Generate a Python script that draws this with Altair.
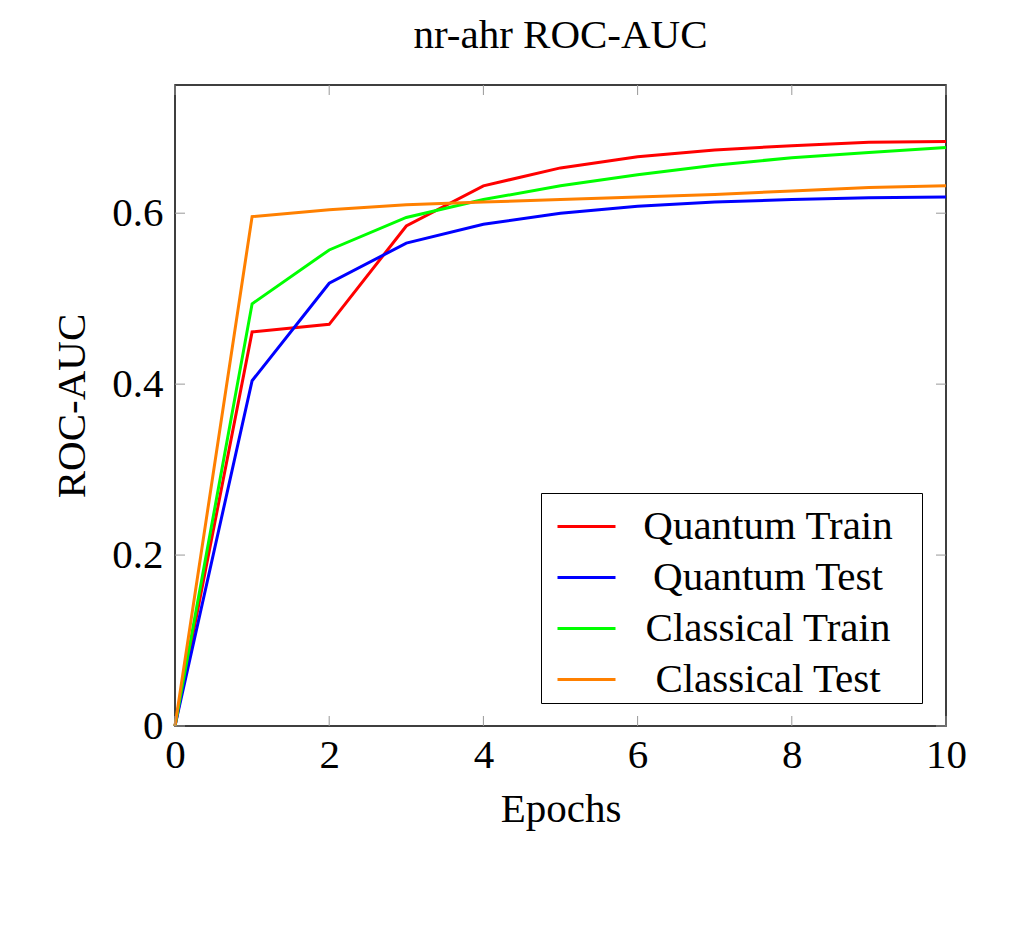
import altair as alt
import pandas as pd

epochs = [0, 1, 2, 3, 4, 5, 6, 7, 8, 9, 10]
quantum_train = [0, 0.461, 0.470, 0.585, 0.632, 0.653, 0.666, 0.674, 0.679, 0.683, 0.684]
quantum_test = [0, 0.404, 0.518, 0.565, 0.587, 0.600, 0.608, 0.613, 0.616, 0.618, 0.619]
classical_train = [0, 0.494, 0.557, 0.595, 0.616, 0.632, 0.645, 0.656, 0.665, 0.671, 0.677]
classical_test = [0, 0.596, 0.604, 0.610, 0.613, 0.616, 0.619, 0.622, 0.626, 0.630, 0.632]

series_names = ["Quantum Train", "Quantum Test", "Classical Train", "Classical Test"]
series_colors = ["#ff0000", "#0000ff", "#00ff00", "#ff8000"]
x_ticks = [0, 2, 4, 6, 8, 10]
y_ticks = [0, 0.2, 0.4, 0.6]

FONT = "Liberation Serif"
FS = 41
W, H = 771, 641

rows = []
for name, vals in zip(series_names, [quantum_train, quantum_test, classical_train, classical_test]):
    for e, v in zip(epochs, vals):
        rows.append({"Epoch": e, "Value": v, "Series": name})
df = pd.DataFrame(rows)

xscale = alt.Scale(domain=[0, 10], nice=False, zero=False)
yscale = alt.Scale(domain=[0, 0.75], nice=False)

axis_style = dict(labelFont=FONT, labelFontSize=FS, labelColor="black", labelFlush=False,
                  titleFont=FONT, titleFontSize=FS, titleFontWeight="normal", titleColor="black",
                  ticks=False, domain=False, grid=False)

lines = alt.Chart(df).mark_line(strokeWidth=3).encode(
    x=alt.X("Epoch:Q", scale=xscale,
            axis=alt.Axis(title="Epochs", values=x_ticks, format="d",
                          labelPadding=9, titlePadding=14, **axis_style)),
    y=alt.Y("Value:Q", scale=yscale,
            axis=alt.Axis(title="ROC-AUC", values=y_ticks,
                          labelExpr="datum.value == 0 ? '0' : format(datum.value, '.1f')",
                          labelPadding=12, titlePadding=18, **axis_style)),
    color=alt.Color("Series:N", sort=series_names,
                    scale=alt.Scale(domain=series_names, range=series_colors),
                    legend=alt.Legend(title=" ", titleOrient="right", titlePadding=26,
                                      titleFontSize=2,
                                      orient="none", legendX=366, legendY=408,
                                      symbolType="stroke", symbolSize=3364, symbolStrokeWidth=3,
                                      symbolOffset=12,
                                      labelFontSize=FS, labelFont=FONT, labelColor="black",
                                      labelAlign="center", labelOffset=151, labelLimit=500,
                                      rowPadding=-9, padding=3, strokeColor="black",
                                      fillColor="white")),
)

xt = pd.DataFrame({"t": x_ticks})
yt = pd.DataFrame({"t": y_ticks})
tick_color = "#999999"
xb = alt.Chart(xt).mark_rule(color=tick_color, strokeWidth=1).encode(
    x=alt.X("t:Q", scale=xscale), y=alt.value(H), y2=alt.value(H - 10))
xtp = alt.Chart(xt).mark_rule(color=tick_color, strokeWidth=1).encode(
    x=alt.X("t:Q", scale=xscale), y=alt.value(0), y2=alt.value(10))
yl = alt.Chart(yt).mark_rule(color=tick_color, strokeWidth=1).encode(
    y=alt.Y("t:Q", scale=yscale), x=alt.value(0), x2=alt.value(10))
yr = alt.Chart(yt).mark_rule(color=tick_color, strokeWidth=1).encode(
    y=alt.Y("t:Q", scale=yscale), x=alt.value(W), x2=alt.value(W - 10))

chart = alt.layer(lines, xb, xtp, yl, yr).properties(
    width=W, height=H,
    title=alt.Title("nr-ahr ROC-AUC", font=FONT, fontSize=FS, fontWeight="normal",
                    color="black", offset=28),
    autosize=alt.AutoSizeParams(type="none"),
    padding={"left": 167, "top": 77, "right": 70, "bottom": 190},
    background="white",
).configure_view(stroke="black", strokeWidth=1.5)

chart.save("out.html", embed_options={"renderer": "svg", "actions": False})
